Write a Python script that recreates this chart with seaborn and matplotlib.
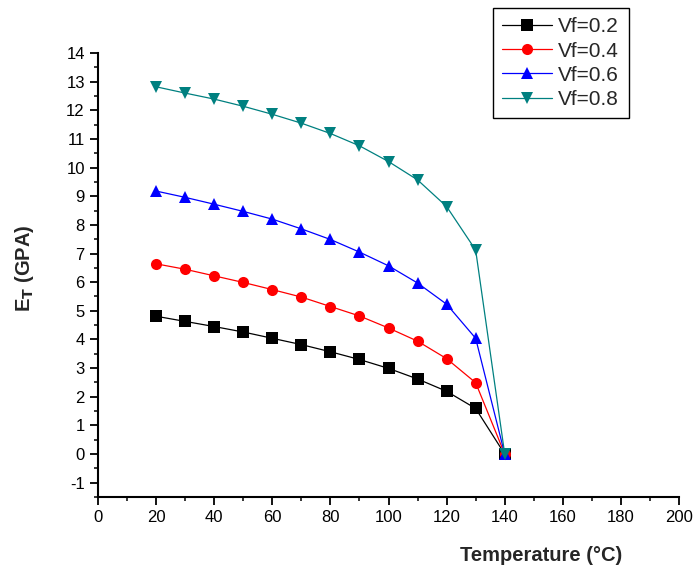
import pandas as pd
import matplotlib
matplotlib.use('Agg')
import matplotlib.pyplot as plt
import seaborn as sns
from matplotlib.ticker import MultipleLocator

# Temperature points (°C)
temperature = [20, 30, 40, 50, 60, 70, 80, 90, 100, 110, 120, 130, 140]

# E_T values (GPA) for each fibre volume fraction
et_vf02 = [4.81, 4.63, 4.45, 4.26, 4.04, 3.82, 3.57, 3.30, 2.99, 2.62, 2.19, 1.59, 0.0]
et_vf04 = [6.64, 6.45, 6.22, 5.99, 5.74, 5.48, 5.15, 4.82, 4.40, 3.94, 3.33, 2.49, 0.0]
et_vf06 = [9.18, 8.96, 8.72, 8.47, 8.20, 7.86, 7.49, 7.05, 6.57, 5.97, 5.23, 4.04, 0.0]
et_vf08 = [12.82, 12.60, 12.39, 12.14, 11.86, 11.55, 11.19, 10.76, 10.21, 9.57, 8.64, 7.12, 0.0]

labels = ['Vf=0.2', 'Vf=0.4', 'Vf=0.6', 'Vf=0.8']
colors = ['#000000', '#FF0000', '#0000FF', '#008080']
markers = ['s', 'o', '^', 'v']

# long format for seaborn
rows = []
for lab, vals in zip(labels, [et_vf02, et_vf04, et_vf06, et_vf08]):
    for t, v in zip(temperature, vals):
        rows.append({'Temperature': t, 'ET': v, 'series': lab})
df = pd.DataFrame(rows)

sns.set_style('ticks')
plt.rcParams['font.family'] = ['Liberation Sans', 'DejaVu Sans']
plt.rcParams['axes.unicode_minus'] = False

fig = plt.figure(figsize=(6.96, 5.71), dpi=100)
ax = fig.add_axes([0.1408, 0.1296, 0.8348, 0.7776])

sns.lineplot(data=df, x='Temperature', y='ET', hue='series', style='series',
             hue_order=labels, style_order=labels,
             palette=dict(zip(labels, colors)), markers=dict(zip(labels, markers)),
             dashes=False, linewidth=0.9, markersize=8, markeredgewidth=0,
             ax=ax)

ax.set_xlim(0, 200)
ax.set_ylim(-1.5, 14)
ax.xaxis.set_major_locator(MultipleLocator(20))
ax.xaxis.set_minor_locator(MultipleLocator(10))
ax.yaxis.set_major_locator(MultipleLocator(1))
ax.yaxis.set_minor_locator(MultipleLocator(0.5))
ax.tick_params(which='major', length=6, width=1.3, labelsize=12, colors='black')
ax.tick_params(which='minor', length=3, width=1.3)
sns.despine(ax=ax)
for s in ['left', 'bottom']:
    ax.spines[s].set_linewidth(1.5)
    ax.spines[s].set_color('black')

ax.set_xlabel('Temperature (°C)', fontsize=14.5, fontweight='bold')
ax.set_ylabel('E$_\\mathbf{T}$ (GPA)', fontsize=14.5, fontweight='bold')
ax.xaxis.set_label_coords(0.762, -0.11)
ax.yaxis.set_label_coords(-0.107, 0.516)

# legend sits above the axes, top right
handles, labs = ax.get_legend_handles_labels()
ax.legend(handles, labs, loc='upper left', bbox_to_anchor=(0.708, 0.986),
          bbox_transform=fig.transFigure, borderaxespad=0, fontsize=15,
          frameon=True, fancybox=False, framealpha=1, edgecolor='black',
          handlelength=2.4, labelspacing=0.25, handletextpad=0.3,
          borderpad=0.45)
ax.get_legend().get_frame().set_linewidth(1.0)

fig.savefig('out.png', dpi=100)
